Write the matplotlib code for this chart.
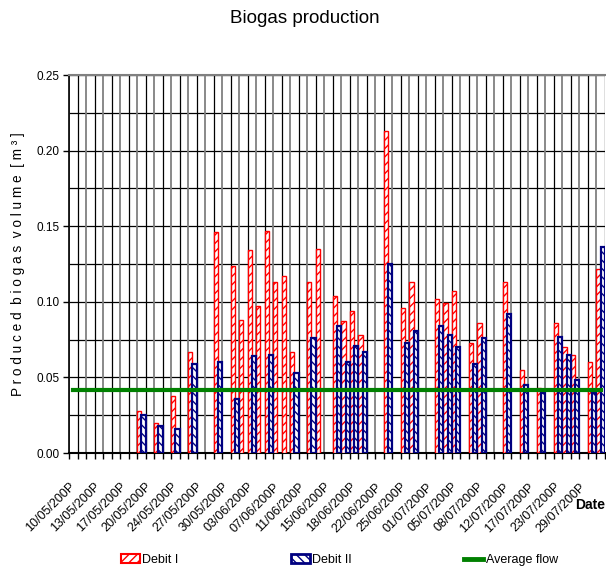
import numpy as np
import matplotlib
matplotlib.use("Agg")
import matplotlib.pyplot as plt
from matplotlib.patches import Patch
from matplotlib.lines import Line2D

plt.rcParams['font.family'] = ['Liberation Sans', 'DejaVu Sans']

# measurement days (categories); only every third one is labelled
n_days = 63
tick_dates = [
    "10/05/200P", "13/05/200P", "17/05/200P", "20/05/200P", "24/05/200P",
    "27/05/200P", "30/05/200P", "03/06/200P", "07/06/200P", "11/06/200P",
    "15/06/200P", "18/06/200P", "22/06/200P", "25/06/200P", "01/07/200P",
    "05/07/200P", "08/07/200P", "12/07/200P", "17/07/200P", "23/07/200P",
    "29/07/200P",
]

N = np.nan
debit1 = [
    N, N, N, N, N, N, N, N, 0.028, N,
    0.020, N, 0.038, N, 0.067, N, N, 0.146, N, 0.124,
    0.088, 0.134, 0.097, 0.147, 0.113, 0.117, 0.067, N, 0.113, 0.135,
    N, 0.104, 0.087, 0.094, 0.078, N, N, 0.213, N, 0.096,
    0.113, N, N, 0.102, 0.099, 0.107, N, 0.073, 0.086, N,
    N, 0.113, N, 0.055, N, 0.043, N, 0.086, 0.070, 0.065,
    N, 0.060, 0.122,
]
debit2 = [
    N, N, N, N, N, N, N, N, 0.025, N,
    0.018, N, 0.016, N, 0.059, N, N, 0.060, N, 0.036,
    N, 0.064, N, 0.065, N, N, 0.053, N, 0.076, N,
    N, 0.084, 0.060, 0.071, 0.067, N, N, 0.125, N, 0.073,
    0.081, N, N, 0.084, 0.078, 0.070, N, 0.059, 0.076, N,
    N, 0.092, N, 0.045, N, 0.040, N, 0.077, 0.065, 0.048,
    N, 0.040, 0.136,
]
average_flow = 0.0415

RED = "#ff0000"
NAVY = "#000080"
GREEN = "#008000"

fig = plt.figure(figsize=(6.06, 5.72), dpi=100)
ax = fig.add_axes([69 / 606, 1 - 453 / 572, 536 / 606, 378 / 572])

x = np.arange(n_days)
ax.bar(x + 0.25, debit1, width=0.5, facecolor="white", edgecolor=RED,
       hatch="////", linewidth=1.0, zorder=3)
ax.bar(x + 0.75, debit2, width=0.5, facecolor="white", edgecolor=NAVY,
       hatch="\\\\\\\\", linewidth=1.6, zorder=3)
ax.plot([0.5, n_days - 0.5], [average_flow, average_flow], color=GREEN,
        linewidth=3, zorder=4)

ax.set_xlim(0, n_days)
ax.set_ylim(0, 0.25)

# vertical grid: alternating grey / black lines at the day boundaries
bounds = np.arange(n_days + 1)
ax.vlines(bounds[0::2], 0, 0.25, colors="#808080", linewidth=1.3, zorder=1)
ax.vlines(bounds[1::2], 0, 0.25, colors="black", linewidth=0.9, zorder=1)

# horizontal grid every 0.025
ax.set_yticks(np.arange(0, 0.2501, 0.05))
ax.set_yticks(np.arange(0.025, 0.25, 0.05), minor=True)
ax.set_yticklabels(["%.2f" % v for v in np.arange(0, 0.2501, 0.05)], fontsize=8.5)
ax.grid(axis="y", which="both", color="black", linewidth=0.9, zorder=1)
ax.set_axisbelow(True)
ax.tick_params(axis="y", which="major", length=4, width=1, direction="out", pad=3)
ax.tick_params(axis="y", which="minor", length=0)

# x ticks: marks on boundaries, labels on every third day
ax.set_xticks(bounds, minor=True)
ax.set_xticks(np.arange(0, n_days, 3) + 0.5)
ax.set_xticklabels(tick_dates, rotation=45, ha="right", va="center",
                   rotation_mode="anchor", fontsize=9)
ax.tick_params(axis="x", which="major", length=0, pad=23)
ax.tick_params(axis="x", which="minor", length=4, width=1, direction="out")

ax.spines["top"].set_color("#808080")
ax.spines["top"].set_linewidth(1.5)
ax.spines["right"].set_visible(False)
ax.spines["left"].set_linewidth(1.2)
ax.spines["bottom"].set_linewidth(1.5)

ax.set_ylabel("P r o d u c e d  b i o g a s  v o l u m e  [ m ³ ]", fontsize=9.8)
ax.yaxis.set_label_coords(-0.082, 0.5)

fig.text(0.503, 0.968, "Biogas production", ha="center", va="center", fontsize=13.5)
fig.text(0.999, 1 - 505 / 572, "Date", ha="right", va="center", fontsize=10,
         fontweight="bold")

handles = [
    Patch(facecolor="white", edgecolor=RED, hatch="////", linewidth=1.5),
    Patch(facecolor="white", edgecolor=NAVY, hatch="\\\\\\\\", linewidth=2),
    Line2D([], [], color=GREEN, linewidth=3.5),
]
fig.legend(handles, ["Debit I", "Debit II", "Average flow"], loc="center",
           bbox_to_anchor=(0.56, 1 - 560 / 572), ncol=3, frameon=False,
           fontsize=9, handlelength=1.5, handletextpad=0.2, columnspacing=9)

fig.savefig("out.png", dpi=100)
